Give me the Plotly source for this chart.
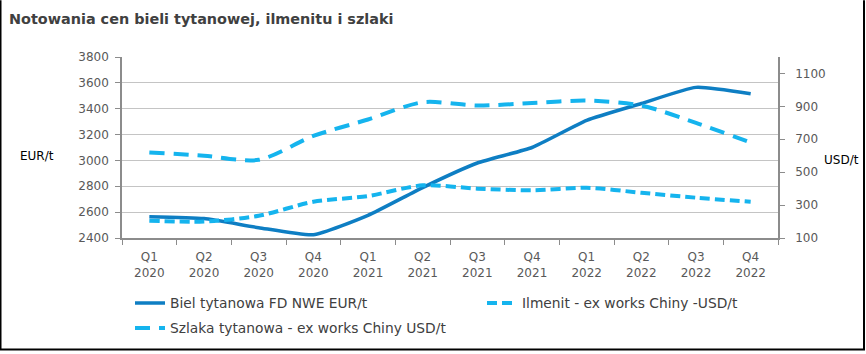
import plotly.graph_objects as go

quarters = ["Q1", "Q2", "Q3", "Q4", "Q1", "Q2", "Q3", "Q4", "Q1", "Q2", "Q3", "Q4"]
years = ["2020"] * 4 + ["2021"] * 4 + ["2022"] * 4
categories = [f"{q}<br>{y}" for q, y in zip(quarters, years)]

biel_eur = [2565, 2550, 2480, 2425, 2575, 2790, 2980, 3100, 3310, 3440, 3565, 3515]
ilmenit_usd = [205, 200, 235, 320, 355, 420, 400, 390, 405, 375, 345, 320]
szlaka_usd = [620, 600, 575, 720, 820, 925, 905, 920, 935, 905, 800, 680]

left_ticks = [2400, 2600, 2800, 3000, 3200, 3400, 3600, 3800]
left_dark_grid = [2600, 3000, 3400, 3800]
right_ticks = [100, 300, 500, 700, 900, 1100]

DARK = "#0E7EC3"
LIGHT = "#15B4EE"
AXIS = "#8C8C8C"
TICKFONT = dict(family="DejaVu Sans", size=12, color="#595959")
LEGFONT = dict(family="DejaVu Sans", size=13.8, color="#404040")

PW, PH = 656, 182  # plot area size in px


def px_x(x):
    return (x - 122) / PW


def px_y(y):
    return (239 - y) / PH


fig = go.Figure()
fig.add_trace(go.Scatter(
    x=categories, y=biel_eur, name="Biel tytanowa FD NWE EUR/t",
    mode="lines", line=dict(color=DARK, width=3.5, shape="spline", smoothing=0.5),
    yaxis="y", legend="legend"))
fig.add_trace(go.Scatter(
    x=categories, y=ilmenit_usd, name="Ilmenit - ex works Chiny -USD/t",
    mode="lines", line=dict(color=LIGHT, width=4, dash="10px,5px", shape="spline", smoothing=0.8),
    yaxis="y2", legend="legend2"))
fig.add_trace(go.Scatter(
    x=categories, y=szlaka_usd, name="Szlaka tytanowa - ex works Chiny USD/t",
    mode="lines", line=dict(color=LIGHT, width=4, dash="15px,9px", shape="spline", smoothing=0.8),
    yaxis="y2", legend="legend3"))

leg_common = dict(orientation="h", xanchor="left", yanchor="middle",
                  font=LEGFONT, itemwidth=30, bgcolor="rgba(0,0,0,0)")

fig.update_layout(
    width=866, height=354,
    margin=dict(l=122, r=88, t=57, b=115),
    paper_bgcolor="white", plot_bgcolor="white",
    showlegend=True,
    legend=dict(x=px_x(130), y=px_y(303), **leg_common),
    legend2=dict(x=px_x(482), y=px_y(303), **leg_common),
    legend3=dict(x=px_x(130), y=px_y(328), **leg_common),
    xaxis=dict(type="category", range=[-0.5, 11.5], showline=True, linecolor=AXIS, linewidth=1.5,
               ticks="outside", tickson="boundaries", ticklen=5, tickcolor=AXIS,
               tickfont=TICKFONT, showgrid=False, zeroline=False, ticklabelstandoff=7),
    yaxis=dict(range=[2400, 3800], tickvals=left_ticks, showline=True, linecolor=AXIS,
               linewidth=1.5, ticks="outside", ticklen=5, tickcolor=AXIS,
               tickfont=TICKFONT, showgrid=True, gridcolor="#C4C4C4", gridwidth=1.3,
               zeroline=False, ticklabelstandoff=4),
    yaxis3=dict(range=[2400, 3800], tickvals=left_dark_grid, overlaying="y",
                showticklabels=False, ticks="", showgrid=True, gridcolor="#8A8A8A",
                gridwidth=1.5, zeroline=False, showline=False),
    yaxis2=dict(range=[100, 1200], tickvals=right_ticks, overlaying="y", side="right",
                showline=True, linecolor=AXIS, linewidth=1.5, ticks="outside", ticklen=5,
                tickcolor=AXIS, tickfont=TICKFONT, showgrid=False, zeroline=False,
                ticklabelstandoff=8),
    annotations=[
        dict(text="<b>Notowania cen bieli tytanowej, ilmenitu i szlaki</b>", xref="paper", yref="paper",
             x=px_x(7), y=px_y(9), xanchor="left", yanchor="top", showarrow=False,
             font=dict(family="DejaVu Sans", size=14.4, color="#404040")),
        dict(text="EUR/t", xref="paper", yref="paper", x=px_x(18), y=px_y(157),
             xanchor="left", yanchor="middle", showarrow=False,
             font=dict(family="DejaVu Sans", size=12, color="#000000")),
        dict(text="USD/t", xref="paper", yref="paper", x=px_x(822), y=px_y(161),
             xanchor="left", yanchor="middle", showarrow=False,
             font=dict(family="DejaVu Sans", size=12, color="#000000")),
    ],
    shapes=[
        dict(type="line", xref="paper", yref="paper", x0=px_x(0.5), x1=px_x(0.5),
             y0=px_y(351), y1=px_y(0), line=dict(color="black", width=2)),
        dict(type="line", xref="paper", yref="paper", x0=px_x(864), x1=px_x(864),
             y0=px_y(351), y1=px_y(0), line=dict(color="black", width=2)),
        dict(type="line", xref="paper", yref="paper", x0=px_x(0), x1=px_x(865),
             y0=px_y(351), y1=px_y(351), line=dict(color="black", width=2)),
    ],
)

fig.write_html("out.html")
